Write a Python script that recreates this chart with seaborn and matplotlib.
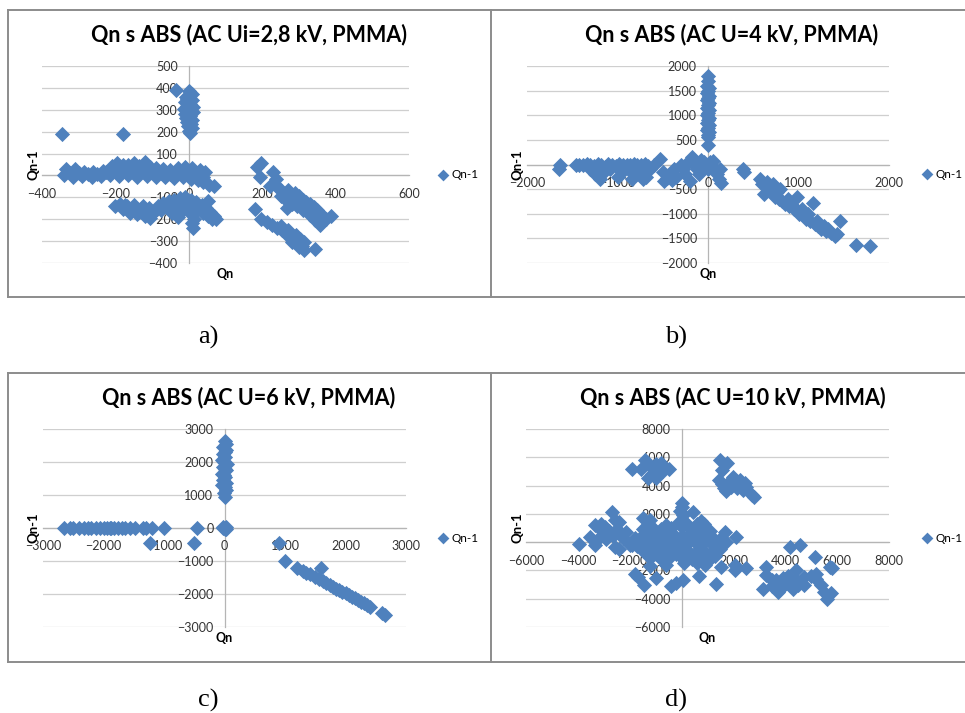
import numpy as np
import pandas as pd
import matplotlib
matplotlib.use("Agg")
import matplotlib.pyplot as plt
from matplotlib.lines import Line2D
import seaborn as sb

# ---- data (Qn, Qn-1) ----
titles = ["Qn s ABS (AC Ui=2,8 kV, PMMA)", "Qn s ABS (AC U=4 kV, PMMA)",
          "Qn s ABS (AC U=6 kV, PMMA)", "Qn s ABS (AC U=10 kV, PMMA)"]
captions = ["a)", "b)", "c)", "d)"]

xticks_a = [-400, -200, 0, 200, 400, 600]
yticks_a = [-400, -300, -200, -100, 0, 100, 200, 300, 400, 500]
xticks_b = [-2000, -1000, 0, 1000, 2000]
yticks_b = [-2000, -1500, -1000, -500, 0, 500, 1000, 1500, 2000]
xticks_c = [-3000, -2000, -1000, 0, 1000, 2000, 3000]
yticks_c = [-3000, -2000, -1000, 0, 1000, 2000, 3000]
xticks_d = [-6000, -4000, -2000, 0, 2000, 4000, 6000, 8000]
yticks_d = [-6000, -4000, -2000, 0, 2000, 4000, 6000, 8000]

pts_a = [
    # vertical blob near Qn = 0
    (-35, 390), (0, 385), (8, 370), (-8, 360), (10, 345), (-10, 335), (4, 325), (12, 312),
    (-12, 305), (0, 298), (12, 288), (-10, 282), (4, 272), (-8, 262), (10, 255), (-4, 245),
    (6, 235), (-2, 225), (8, 215), (0, 205), (2, 195), (-5, 350), (-6, 315), (2, 345), (3, 250),
    # isolated
    (-345, 190), (-180, 190), (52, -118),
    # upper band
    (-335, 30), (-310, 28), (-285, 18), (-260, 15), (-235, 20), (-210, 45), (-195, 55),
    (-180, 48), (-165, 50), (-150, 58), (-135, 45), (-120, 62), (-105, 40), (-90, 35),
    (-70, 28), (-50, 25), (-30, 35), (-10, 38), (10, 32), (30, 25), (45, 15),
    (-325, 12), (-300, 10), (-275, 5), (-250, 8), (-225, 15), (-200, 25), (-175, 22),
    (-150, 25), (-125, 20), (-100, 15), (-75, 10), (-50, 8), (-25, 12), (0, 10), (20, 5), (40, -5),
    (-340, 0), (-315, -5), (-290, -3), (-265, -8), (-240, -2), (-215, 0), (-190, -3),
    (-165, 0), (-140, -5), (-115, -2), (-90, -8), (-65, -5), (-40, -10), (-15, -8),
    (5, -15), (25, -20), (40, -30), (55, -45), (68, -50),
    # lower band, left part
    (-200, -140), (-188, -130), (-180, -155), (-168, -140), (-160, -170), (-150, -150),
    (-140, -175), (-130, -155), (-120, -185), (-112, -165), (-105, -195), (-100, -175),
    (-175, -135), (-150, -135), (-125, -140), (-108, -150), (-165, -160), (-135, -165),
    # lower band, right part
    (-85, -140), (-70, -125), (-55, -115), (-40, -110), (-25, -105), (-10, -100), (5, -110),
    (20, -120), (35, -135), (48, -150), (58, -165), (68, -185), (75, -200),
    (-75, -160), (-55, -150), (-35, -140), (-15, -135), (5, -140), (22, -150), (38, -170),
    (52, -185), (62, -198), (-45, -170), (-20, -165), (0, -160), (10, -180), (15, -198),
    (10, -215), (12, -240), (-30, -190),
    # right group, upper diagonal
    (185, 38), (198, 56), (193, -8), (229, 15), (238, -15), (222, -48), (235, -40),
    (245, -60), (255, -70), (265, -80), (275, -90), (285, -100), (295, -115), (305, -125),
    (315, -140), (325, -150), (335, -160), (345, -175), (355, -190), (365, -205),
    (375, -200), (388, -185), (270, -65), (290, -80), (300, -95), (310, -110), (320, -120),
    (330, -130), (340, -145), (350, -160), (360, -175), (250, -95), (265, -110), (280, -130),
    (268, -150), (295, -140), (310, -160), (330, -180), (345, -205), (358, -225),
    # right group, lower diagonal
    (180, -152), (198, -198), (212, -212), (226, -225), (240, -238), (254, -250),
    (266, -266), (278, -280), (288, -296), (298, -308), (308, -322), (314, -342),
    (343, -335), (250, -232), (270, -250), (292, -272), (304, -290), (315, -305),
    (282, -302), (300, -328),
]

pts_b = [
    # vertical spike near Qn = 0
    (0, 1800), (0, 1700), (-10, 1600), (10, 1550), (0, 1500), (-15, 1450), (15, 1400),
    (0, 1350), (-10, 1300), (10, 1250), (0, 1200), (-15, 1150), (15, 1100), (0, 1050),
    (-10, 1000), (10, 950), (0, 900), (-10, 850), (10, 800), (0, 750), (-10, 700),
    (10, 650), (0, 600), (-5, 550), (0, 400),
    # left horizontal arm
    (-1650, -100), (-1640, 0),
    (-1460, 0), (-1420, 0), (-1380, 0), (-1340, 10), (-1300, 0), (-1260, -30), (-1220, 20),
    (-1180, 0), (-1140, -50), (-1100, 20), (-1060, 0), (-1020, -30), (-980, 10), (-940, 0),
    (-900, -20), (-860, 0), (-820, 20), (-780, -10), (-740, 0), (-700, 10), (-660, -30),
    (-600, 0),
    (-1300, -100), (-1250, -200), (-1190, -300), (-1150, -150), (-1080, -100),
    (-1000, -250), (-950, -150), (-880, -100), (-840, -300), (-800, -200), (-760, -150),
    (-720, -300), (-680, -250), (-640, -100),
    # around the origin
    (-530, 110), (-500, -150), (-490, -325), (-450, -280), (-420, -200), (-380, -100),
    (-350, -250), (-300, 0), (-280, -100), (-250, -200), (-220, 50), (-200, -325),
    (-180, 150), (-150, 0), (-120, -100), (-100, -200), (-80, 100), (-60, -50), (-40, 50),
    (-20, 0), (0, -100), (20, 50), (40, -50), (60, 80), (80, -100), (100, -200),
    (120, -300), (140, -380), (130, -100), (-150, 100), (-400, -320),
    # right diagonal arm
    (390, -100), (400, -150),
    (580, -300), (600, -400), (620, -600), (650, -350), (680, -450), (700, -500),
    (720, -400), (740, -650), (760, -550), (780, -700), (800, -500), (820, -750),
    (850, -800), (880, -700), (900, -850), (920, -800), (950, -900), (980, -650),
    (990, -950), (1010, -1000), (1040, -900), (1060, -1050), (1080, -1100), (1100, -1000),
    (1130, -1150), (1160, -780), (1180, -1200), (1200, -1150), (1220, -1250), (1250, -1300),
    (1280, -1250), (1300, -1350), (1330, -1300), (1360, -1400), (1400, -1450),
    (1430, -1420), (1460, -1150), (1640, -1640), (1790, -1650),
]

pts_c = [
    # vertical arm
    (0, 2650), (20, 2550), (-20, 2450), (30, 2350), (-30, 2250), (10, 2150), (-40, 2050),
    (35, 1950), (-20, 1850), (25, 1750), (-35, 1650), (15, 1550), (-25, 1450), (30, 1350),
    (-40, 1300), (0, 1250), (20, 1150), (-15, 1050), (0, 950), (-10, 2000), (10, 1800),
    (0, 2300), (-10, 1600),
    # origin
    (-30, 0), (20, 20), (0, -30), (30, -20), (-20, 30),
    # horizontal arm
    (-2650, 0), (-2550, 0), (-2400, 0), (-2330, 0), (-2260, 10), (-2200, 0), (-2130, 0),
    (-2060, 10), (-2000, 0), (-1940, 0), (-1880, 10), (-1820, 0), (-1760, 0), (-1700, 0),
    (-1640, 0), (-1560, 0), (-1480, 0), (-1350, 0), (-1300, 0), (-1200, 0), (-1000, 0),
    (-2500, 0), (-1900, -10),
    # stray points
    (-1230, -440), (-500, -440), (-450, 0), (900, -450), (1000, -1000), (1200, -1200),
    (1600, -1200),
    # diagonal arm
    (1300, -1300), (1350, -1350), (1420, -1400), (1500, -1480), (1560, -1550),
    (1620, -1600), (1680, -1660), (1740, -1720), (1800, -1780), (1850, -1840),
    (1900, -1880), (1950, -1930), (2000, -1980), (2050, -2030), (2100, -2080),
    (2150, -2130), (2200, -2180), (2250, -2230), (2300, -2280), (2350, -2330),
    (2400, -2380), (2600, -2580), (2650, -2650),
]

pts_d = [
    # central blob
    (-1500, 900), (-1100, 1000), (-800, 900), (-400, 1000), (0, 1100), (400, 900),
    (800, 1000), (1100, 800), (-1300, 1200), (-600, 1200), (200, 1200), (600, 1300),
    (-1800, 300), (-1500, 500), (-1200, 400), (-900, 500), (-600, 400), (-300, 500),
    (0, 400), (300, 500), (600, 400), (900, 400), (1200, 300),
    (-1900, -200), (-1600, -100), (-1300, 0), (-1000, -100), (-700, 0), (-400, -100),
    (-100, 0), (200, -100), (500, 0), (800, -100), (1100, 0), (1400, -100), (1700, 0),
    (-1500, -600), (-1200, -500), (-900, -600), (-600, -700), (-300, -600), (0, -500),
    (300, -700), (600, -600), (900, -700), (1200, -600), (1500, -500),
    (-1700, -300), (-1100, -300), (-500, -300), (100, -300), (700, -300), (1300, -300),
    (-1400, 200), (-800, 200), (-200, 200), (400, 200), (1000, 200), (1500, 200),
    (-1200, -1100), (-800, -1200), (-400, -1000), (0, -1100), (400, -1200), (700, -1100),
    (1000, -1300), (1300, -1000), (-1000, -850), (-200, -850), (500, -900), (1100, -900),
    (-600, -1600), (100, -1500), (600, -1500), (900, -1600),
    (0, 2800), (0, 2500), (-50, 2200), (50, 1900), (0, 1600), (-100, 1400), (200, 1300),
    (-1500, 1700), (-1200, 1600), (450, 2100), (750, 1500), (850, 1300),
    (1660, 730), (2100, 330),
    # below the blob
    (1530, -1750), (2070, -1650), (2070, -2000), (2500, -1860), (-1200, -1700),
    (-1810, -2260), (-1680, -2450), (-1460, -3040), (-1000, -2570), (-400, -3110),
    (-200, -2920), (50, -2690), (690, -2400), (1340, -2970),
    # left group
    (-3970, -150), (-3550, 350), (-3350, -200), (-3350, 1200), (-3200, 1000), (-3100, 1300),
    (-3000, 600), (-2950, 1100), (-2800, 800), (-2700, 2100), (-2650, 400), (-2550, 1600),
    (-2500, 900), (-2400, 1400), (-2350, 600), (-2250, 300), (-2550, -350), (-2400, -500),
    (-2150, 700), (-3200, 300), (-2000, -200), (-2900, 200),
    # upper left group
    (-1900, 5200), (-1550, 5150), (-1400, 5800), (-1200, 5400), (-1000, 5500), (-850, 5300),
    (-700, 5000), (-500, 5200), (-1150, 4850), (-1000, 4500), (-1300, 4500), (-800, 5600),
    (-900, 4900),
    # upper right group
    (1500, 5800), (1750, 5600), (1550, 5100), (1450, 4400), (1550, 4100), (1650, 3800),
    (1800, 4200), (2000, 4600), (2100, 4300), (2250, 4400), (1900, 3900), (2150, 3800),
    (2350, 3700), (2500, 3900), (2700, 3300), (2800, 3200), (2450, 4200), (1700, 3600),
    # lower right group
    (3140, -3280), (3270, -1750), (3270, -2340), (3500, -2700), (3650, -2690), (3700, -3520),
    (3900, -3100), (4000, -2600), (4100, -2400), (4200, -3000), (4300, -3300), (4400, -2700),
    (4420, -1980), (4500, -3000), (4740, -3040), (4740, -2450), (5000, -2400), (3900, -2500),
    (4170, -330), (4550, -210), (5130, -1060), (5190, -2280), (5390, -3040), (5510, -3510),
    (5600, -4000), (5770, -3630), (5710, -1750), (5800, -1850), (5200, -2600), (3500, -3100),
    (4200, -2700), (3800, -3300),
]

W, H = 965, 713
BLUE = "#4F81BD"


def main():
    plt.rcParams["font.family"] = ["Lato", "DejaVu Sans"]
    fig = plt.figure(figsize=(W / 100, H / 100), dpi=100)

    # pixel boxes of the plot areas: left, top, right, bottom
    boxes = [(42, 66, 409, 263), (527, 66, 889, 263),
             (43, 429, 406, 627), (526, 429, 889, 627)]
    panels = [(pts_a, xticks_a, yticks_a), (pts_b, xticks_b, yticks_b),
              (pts_c, xticks_c, yticks_c), (pts_d, xticks_d, yticks_d)]
    title_pos = [(249, 35), (732, 35), (249, 398), (733, 398)]
    legend_y = [175, 174, 538, 538]
    legend_x = [437, 921, 437, 921]
    caption_pos = [(208, 337), (676, 337), (208, 700), (676, 700)]

    for i, (pts, xt, yt) in enumerate(panels):
        l, t, r, b = boxes[i]
        ax = fig.add_axes([l / W, 1 - b / H, (r - l) / W, (b - t) / H])
        df = pd.DataFrame(pts, columns=["Qn", "Qn-1"])
        sb.scatterplot(data=df, x="Qn", y="Qn-1", ax=ax, marker="D", s=60,
                       color=BLUE, linewidth=0, label="Qn-1", zorder=2)
        ax.set_xlim(xt[0], xt[-1])
        ax.set_ylim(yt[0], yt[-1])
        ax.set_xticks(xt)
        ax.set_yticks(yt)
        for yv in yt:
            ax.axhline(yv, color="#cfcfcf", lw=0.9, zorder=0.5)
        ax.spines["top"].set_visible(False)
        ax.spines["right"].set_visible(False)
        ax.spines["left"].set_position(("data", 0))
        ax.spines["bottom"].set_position(("data", 0))
        for s in ["left", "bottom"]:
            ax.spines[s].set_color("#b5b5b5")
            ax.spines[s].set_linewidth(0.9)
            ax.spines[s].set_zorder(0.6)
        ax.tick_params(axis="x", length=0, pad=9, labelsize=9, labelcolor="#333333")
        ax.tick_params(axis="y", length=0, pad=8, labelsize=9, labelcolor="#333333")
        ax.set_xlabel("")
        ax.set_ylabel("")
        ax.text(0.5, -11 / (b - t), "Qn", transform=ax.transAxes, ha="center",
                va="center", fontsize=9, fontweight="bold")
        ax.text(-9 / (r - l), 0.5, "Qn-1", transform=ax.transAxes, ha="center",
                va="center", rotation=90, fontsize=9.5, fontweight="bold")
        leg = ax.legend(loc="center left",
                        bbox_to_anchor=(legend_x[i] / W, 1 - legend_y[i] / H),
                        bbox_transform=fig.transFigure, frameon=False, fontsize=8.5,
                        handlelength=1, handletextpad=0.2, borderpad=0, borderaxespad=0)
        for h in leg.legend_handles:
            h.set_sizes([36])

        tx, ty = title_pos[i]
        fig.text(tx / W, 1 - ty / H, titles[i], ha="center", va="center",
                 fontsize=15.5, fontweight="bold")
        cx, cy = caption_pos[i]
        fig.text(cx / W, 1 - cy / H, captions[i], ha="center", va="center",
                 fontsize=19, family="Liberation Serif")

    # frame lines of the two rows of charts
    gray = "#8c8c8c"
    for top, bot in [(9.5, 297.5), (373, 662)]:
        for (x0, y0, x1, y1) in [(7.5, top, W, top), (7.5, bot, W, bot),
                                 (7.5, top, 7.5, bot), (491, top, 491, bot)]:
            fig.add_artist(Line2D([x0 / W, x1 / W], [1 - y0 / H, 1 - y1 / H],
                                  transform=fig.transFigure, color=gray, lw=1.4))

    plt.savefig("out.png", dpi=100)


if __name__ == "__main__":
    main()
